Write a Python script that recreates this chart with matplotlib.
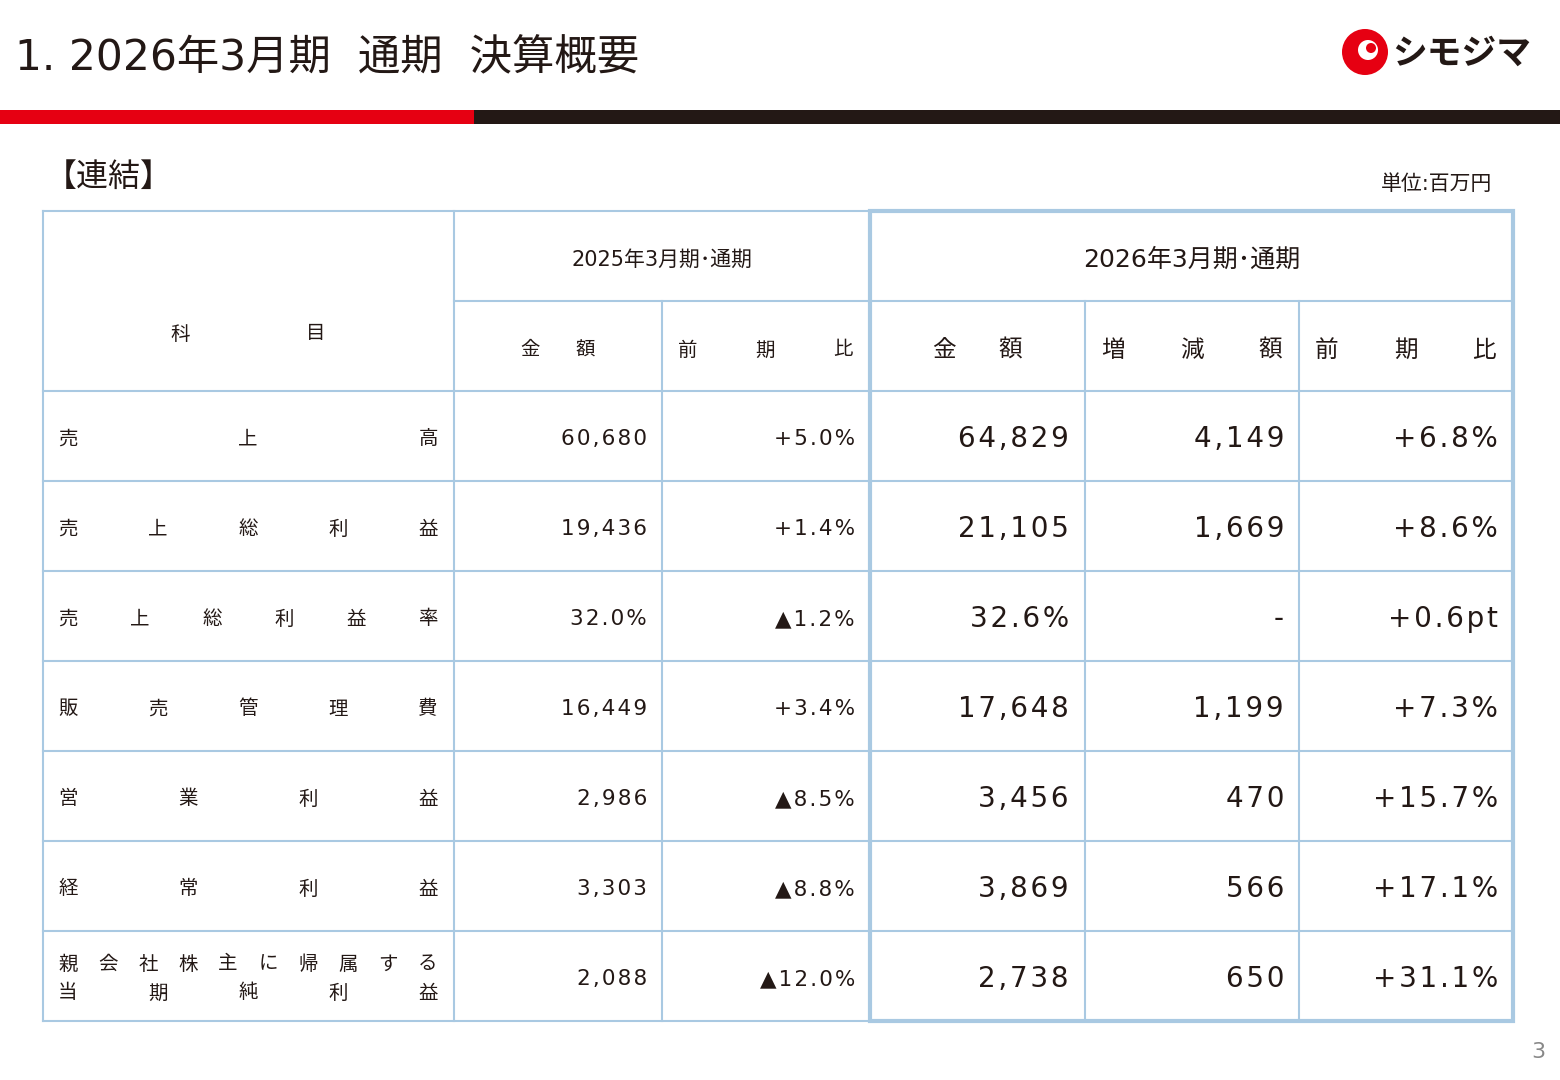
import matplotlib
matplotlib.use("Agg")
from matplotlib import pyplot as plt
from matplotlib.patches import Rectangle, Circle

plt.rcParams['font.family'] = ['DejaVu Sans', 'Noto Sans CJK JP']

# data
items = ["売上高", "売上総利益", "売上総利益率", "販売管理費", "営業利益", "経常利益",
         "親会社株主に帰属する|当期純利益"]
amt_2025 = ["60,680", "19,436", "32.0%", "16,449", "2,986", "3,303", "2,088"]
yoy_2025 = ["+5.0%", "+1.4%", "▲1.2%", "+3.4%", "▲8.5%", "▲8.8%", "▲12.0%"]
amt_2026 = ["64,829", "21,105", "32.6%", "17,648", "3,456", "3,869", "2,738"]
diff_2026 = ["4,149", "1,669", "-", "1,199", "470", "566", "650"]
yoy_2026 = ["+6.8%", "+8.6%", "+0.6pt", "+7.3%", "+15.7%", "+17.1%", "+31.1%"]

fig = plt.figure(figsize=(15.6, 10.8), dpi=100)
ax = fig.add_axes([0, 0, 1, 1])
ax.set_xlim(0, 1560)
ax.set_ylim(1080, 0)
ax.axis('off')

dark = '#231815'
line_c = '#a9c9e2'


def wide(s):
    # reference font sets digits loosely
    return '\u200a'.join(s)


# header
ax.text(15, 58, "1. 2026年3月期  通期  決算概要", fontsize=30.5, va='center', color=dark)
ax.add_patch(Rectangle((0, 110), 474, 14, color='#e60012', lw=0))
ax.add_patch(Rectangle((474, 110), 1086, 14, color=dark, lw=0))
ax.add_patch(Circle((1365, 52), 23, color='#e60012', lw=0))
ax.add_patch(Circle((1368, 50), 10, color='white', lw=0))
ax.add_patch(Circle((1371, 48), 5, color='#e60012', lw=0))
ax.text(1392, 53, "シモジマ", fontsize=25, fontweight='bold', va='center',
        color=dark, family='Noto Sans CJK JP')

ax.text(45, 177, "【連結】", fontsize=23, va='center', color=dark)
ax.text(1492, 184, "単位:百万円", fontsize=15, va='center', ha='right', color=dark)

xs = [43, 454, 662, 870, 1085, 1299, 1513]
ys = [211, 301, 391, 481, 571, 661, 751, 841, 931, 1021]


def hl(y, x0, x1, lw=1.5):
    ax.plot([x0, x1], [y, y], color=line_c, lw=lw)


def vl(x, y0, y1, lw=1.5):
    ax.plot([x, x], [y0, y1], color=line_c, lw=lw)


# grid
hl(ys[0], xs[0], xs[6])
hl(ys[1], xs[1], xs[6])
for y in ys[2:]:
    hl(y, xs[0], xs[6])
vl(xs[0], ys[0], ys[-1])
vl(xs[1], ys[0], ys[-1])
vl(xs[2], ys[1], ys[-1])
vl(xs[4], ys[1], ys[-1])
vl(xs[5], ys[1], ys[-1])
ax.add_patch(Rectangle((xs[3], ys[0]), xs[6] - xs[3], ys[-1] - ys[0],
                       fill=False, ec=line_c, lw=3))


def spread(s, x0, x1, y, size):
    n = len(s)
    for i, ch in enumerate(s):
        x = x0 + (x1 - x0) * i / (n - 1) if n > 1 else x0
        ax.text(x, y, ch, fontsize=size, ha='center', va='center', color=dark)


# column headers
ax.text(662, 260, "2025年3月期･通期", fontsize=15, ha='center', va='center', color=dark)
ax.text(1192, 260, "2026年3月期･通期", fontsize=18, ha='center', va='center', color=dark)
spread("科目", 180, 316, 334, 14)
spread("金額", 530, 585, 350, 14)
spread("前期比", 688, 843, 350, 14)
spread("金額", 944, 1010, 350, 17)
spread("増減額", 1113, 1270, 350, 17)
spread("前期比", 1327, 1484, 350, 17)

# rows
for i, name in enumerate(items):
    yc = (ys[i + 2] + ys[i + 3]) / 2 + 3
    if '|' in name:
        a, b = name.split('|')
        spread(a, 68, 428, yc - 15, 14)
        spread(b, 68, 428, yc + 14, 14)
    else:
        spread(name, 68, 428, yc, 14)
    ax.text(647, yc, wide(amt_2025[i]), fontsize=15.5, ha='right', va='center', color=dark)
    ax.text(855, yc, wide(yoy_2025[i]), fontsize=15.5, ha='right', va='center', color=dark)
    ax.text(1069, yc, wide(amt_2026[i]), fontsize=20, ha='right', va='center', color=dark)
    ax.text(1284, yc, wide(diff_2026[i]), fontsize=20, ha='right', va='center', color=dark)
    ax.text(1498, yc, wide(yoy_2026[i]), fontsize=20, ha='right', va='center', color=dark)

ax.text(1545, 1052, "3", fontsize=16, ha='right', va='center', color='#888888')

fig.savefig("out.png", dpi=100)
